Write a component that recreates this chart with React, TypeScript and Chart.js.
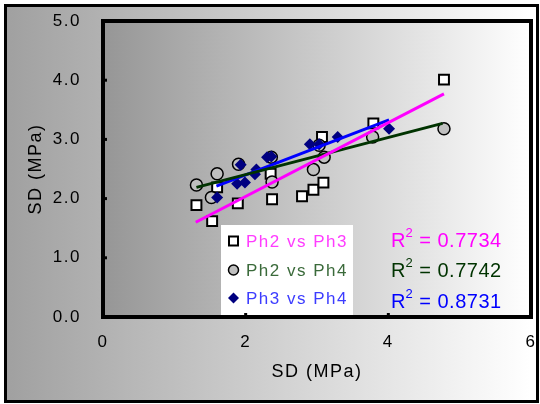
import { useEffect, useRef } from 'react';
import { Chart, registerables } from 'chart.js';

Chart.register(...registerables);

const seriesNames = ['Ph2 vs Ph3', 'Ph2 vs Ph4', 'Ph3 vs Ph4'];
const r2Values = ['0.7734', '0.7742', '0.8731'];

const ph2ph3X = [1.31, 1.53, 1.60, 1.89, 2.35, 2.37, 2.79, 2.95, 3.09, 3.07, 3.79, 4.78];
const ph2ph3Y = [1.89, 1.62, 2.19, 1.92, 2.42, 1.99, 2.04, 2.15, 2.27, 3.04, 3.27, 4.01];

const ph2ph4X = [1.31, 1.60, 1.52, 1.90, 2.37, 2.36, 3.03, 3.10, 2.95, 3.78, 4.78];
const ph2ph4Y = [2.23, 2.42, 2.02, 2.58, 2.28, 2.70, 2.90, 2.70, 2.49, 3.04, 3.18];

const ph3ph4X = [1.60, 1.93, 1.88, 1.99, 2.15, 2.13, 2.30, 2.36, 2.90, 3.03, 3.29, 4.01];
const ph3ph4Y = [2.02, 2.57, 2.25, 2.27, 2.49, 2.41, 2.70, 2.71, 2.92, 2.92, 3.04, 3.18];

const trend23X = [1.30, 4.78];
const trend23Y = [1.60, 3.77];
const trend24X = [1.31, 4.76];
const trend24Y = [2.19, 3.27];
const trend34X = [1.59, 4.01];
const trend34Y = [2.21, 3.33];

const xTickValues = [0, 2, 4, 6];
const yTickValues = [0, 1, 2, 3, 4, 5];
const axisTitle = 'SD (MPa)';

const lineColors = ['#ff00ff', '#003300', '#0000ff'];
const legendTextColors = ['#ff3cff', '#3a6a3a', '#3c3cff'];
const FONT = "'Liberation Sans', Arial, sans-serif";

const pts = (xs: number[], ys: number[]) => xs.map((x, i) => ({ x, y: ys[i] }));

function drawMarker(ctx: CanvasRenderingContext2D, kind: number, x: number, y: number) {
  ctx.save();
  ctx.beginPath();
  if (kind === 0) {
    ctx.rect(x - 4.5, y - 4.5, 9, 9);
    ctx.fillStyle = '#ffffff';
    ctx.fill();
    ctx.lineWidth = 2;
    ctx.strokeStyle = '#000';
    ctx.stroke();
  } else if (kind === 1) {
    ctx.arc(x, y, 5, 0, Math.PI * 2);
    ctx.fillStyle = '#c0c0c0';
    ctx.fill();
    ctx.lineWidth = 1.5;
    ctx.strokeStyle = '#000';
    ctx.stroke();
  } else {
    ctx.moveTo(x - 5.5, y);
    ctx.lineTo(x, y - 5.5);
    ctx.lineTo(x + 5.5, y);
    ctx.lineTo(x, y + 5.5);
    ctx.closePath();
    ctx.fillStyle = '#000080';
    ctx.fill();
  }
  ctx.restore();
}

const decorPlugin = {
  id: 'decor',
  beforeDraw(chart: any) {
    const { ctx, chartArea: a, width, height } = chart;
    ctx.save();
    ctx.fillStyle = '#ffffff';
    ctx.fillRect(0, 0, width, height);
    let g = ctx.createLinearGradient(5, 0, 530, 0);
    g.addColorStop(0, '#a0a0a0');
    g.addColorStop(1, '#ffffff');
    ctx.fillStyle = g;
    ctx.fillRect(5, 5, 533, 397);
    ctx.lineWidth = 3;
    ctx.strokeStyle = '#000';
    ctx.strokeRect(5.5, 5.5, 532, 396);
    g = ctx.createLinearGradient(a.left, 0, a.right, 0);
    g.addColorStop(0, '#969696');
    g.addColorStop(1, '#ffffff');
    ctx.fillStyle = g;
    ctx.fillRect(a.left, a.top, a.right - a.left, a.bottom - a.top);
    ctx.restore();
    ctx.letterSpacing = '1.5px';
  },
  afterDatasetsDraw(chart: any) {
    const { ctx, chartArea: a, scales } = chart;
    ctx.save();
    const bx = a.left + 118;
    const by = a.top + 204;
    ctx.fillStyle = '#ffffff';
    ctx.fillRect(bx, by, 132, a.bottom - by);
    const rowsMarker = [241, 270, 298];
    const rowsText = [247, 276, 304];
    ctx.font = `17px ${FONT}`;
    ctx.textBaseline = 'alphabetic';
    ctx.textAlign = 'left';
    seriesNames.forEach((name, i) => {
      drawMarker(ctx, i, bx + 12.5, rowsMarker[i]);
      ctx.fillStyle = legendTextColors[i];
      ctx.letterSpacing = '1.5px';
      ctx.fillText(name, bx + 25, rowsText[i]);
    });
    const rBase = [247, 277, 307.5];
    const rx = 391;
    r2Values.forEach((v, i) => {
      ctx.fillStyle = lineColors[i];
      ctx.letterSpacing = '0.5px';
      ctx.font = `20px ${FONT}`;
      ctx.fillText('R', rx, rBase[i]);
      const rw = ctx.measureText('R').width;
      ctx.font = `13px ${FONT}`;
      ctx.fillText('2', rx + rw - 0.5, rBase[i] - 10);
      const sw = ctx.measureText('2').width;
      ctx.font = `20px ${FONT}`;
      ctx.fillText(' = ' + v, rx + rw + sw - 0.5, rBase[i]);
    });
    ctx.lineWidth = 4;
    ctx.strokeStyle = '#000';
    ctx.strokeRect(a.left, a.top, a.right - a.left, a.bottom - a.top);
    ctx.lineWidth = 3;
    yTickValues.slice(1, -1).forEach((v) => {
      const y = scales.y.getPixelForValue(v);
      ctx.beginPath();
      ctx.moveTo(a.left, y);
      ctx.lineTo(a.left + 4, y);
      ctx.stroke();
    });
    xTickValues.slice(1, -1).forEach((v) => {
      const x = scales.x.getPixelForValue(v);
      ctx.beginPath();
      ctx.moveTo(x, a.bottom);
      ctx.lineTo(x, a.bottom - 4);
      ctx.stroke();
    });
    ctx.restore();
    ctx.letterSpacing = '1.5px';
  },
};

export default function App() {
  const ref = useRef<HTMLCanvasElement>(null);
  useEffect(() => {
    if (!ref.current) return;
    const chart = new Chart(ref.current, {
      type: 'scatter',
      data: {
        datasets: [
          { label: 't23', data: pts(trend23X, trend23Y), showLine: true, borderColor: lineColors[0], borderWidth: 3, pointRadius: 0, order: 0 },
          { label: 't24', data: pts(trend24X, trend24Y), showLine: true, borderColor: lineColors[1], borderWidth: 3, pointRadius: 0, order: 0 },
          { label: 't34', data: pts(trend34X, trend34Y), showLine: true, borderColor: lineColors[2], borderWidth: 3, pointRadius: 0, order: 0 },
          { label: seriesNames[2], data: pts(ph3ph4X, ph3ph4Y), pointStyle: 'rectRot', pointRadius: 6, backgroundColor: '#000080', borderColor: '#000080', borderWidth: 0, order: 1 },
          { label: seriesNames[1], data: pts(ph2ph4X, ph2ph4Y), pointStyle: 'circle', pointRadius: 6, backgroundColor: '#c0c0c0', borderColor: '#000000', borderWidth: 1.5, order: 2 },
          { label: seriesNames[0], data: pts(ph2ph3X, ph2ph3Y), pointStyle: 'rect', pointRadius: 7, backgroundColor: '#ffffff', borderColor: '#000000', borderWidth: 2, order: 3 },
        ],
      },
      options: {
        animation: false,
        responsive: false,
        devicePixelRatio: 1,
        layout: { padding: { left: 0, top: 21, right: 8, bottom: 0 } },
        plugins: { legend: { display: false }, tooltip: { enabled: false } },
        scales: {
          x: {
            type: 'linear',
            min: 0,
            max: 6,
            afterFit: (s: any) => { s.height = 87; s.paddingLeft = 0; s.paddingRight = 0; s.paddingTop = 0; s.paddingBottom = 0; },
            afterBuildTicks: (s: any) => { s.ticks = xTickValues.map((v) => ({ value: v })); },
            grid: { display: false, drawTicks: false },
            border: { display: false },
            ticks: { padding: 15, color: '#000', font: { family: FONT, size: 17 }, callback: (v: any) => String(v) },
            title: { display: true, text: axisTitle, color: '#000', font: { family: FONT, size: 18 }, padding: { top: 0, bottom: 21 } },
          },
          y: {
            type: 'linear',
            min: 0,
            max: 5,
            afterFit: (s: any) => { s.width = 103; s.paddingLeft = 0; s.paddingRight = 0; s.paddingTop = 0; s.paddingBottom = 0; },
            afterBuildTicks: (s: any) => { s.ticks = yTickValues.map((v) => ({ value: v })); },
            grid: { display: false, drawTicks: false },
            border: { display: false },
            ticks: { padding: 22, color: '#000', font: { family: FONT, size: 17 }, callback: (v: any) => Number(v).toFixed(1) },
            title: { display: true, text: axisTitle, color: '#000', font: { family: FONT, size: 18 }, padding: { top: 25, bottom: 0 } },
          },
        },
      },
      plugins: [decorPlugin],
    } as any);
    return () => chart.destroy();
  }, []);
  return (
    <div style={{ position: 'absolute', left: 0, top: 0, width: 540, height: 404 }}>
      <canvas ref={ref} width={540} height={404} />
    </div>
  );
}
